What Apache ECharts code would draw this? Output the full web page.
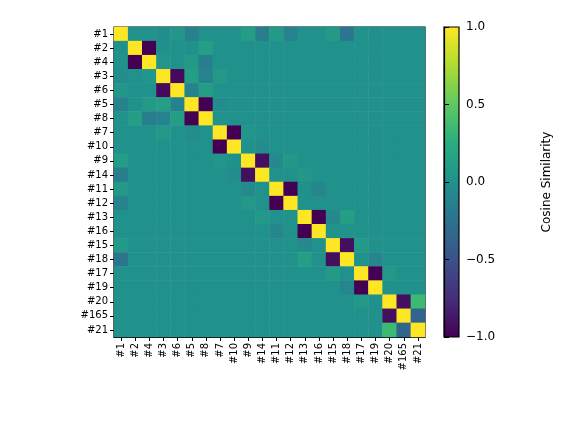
<!DOCTYPE html>
<html>
<head>
<meta charset="utf-8">
<script src="https://cdn.jsdelivr.net/npm/echarts@6/dist/echarts.min.js"></script>
</head>
<body style="margin:0;background:#fff">
<div id="main" style="width:582px;height:426px;"></div>
<script type="text/javascript">
var labels = ['#1','#2','#4','#3','#6','#5','#8','#7','#10','#9','#14','#11','#12','#13','#16','#15','#18','#17','#19','#20','#165','#21'];
// pairs of strongly anti-correlated components [i, j, value]
var pairs = [[1,2,-1],[3,4,-0.95],[5,6,-1],[7,8,-1],[9,10,-0.92],[11,12,-1],[13,14,-1],[15,16,-0.92],[17,18,-1],[19,20,-0.92]];
// weaker off-diagonal similarities [i, j, value]
var minor = [
  [0,5,-0.12],[0,9,0.1],[0,10,-0.15],[0,11,0.08],[0,12,-0.12],[0,15,0.08],[0,16,-0.22],[0,3,-0.03],[0,4,0.04],
  [1,6,0.12],[2,6,-0.15],[2,5,0.08],[3,5,0.12],[3,6,-0.12],[4,5,-0.12],[4,6,0.1],[2,3,0.04],
  [3,7,0.06],[5,7,-0.04],[9,12,0.06],[9,11,-0.06],[10,13,0.05],[11,14,-0.08],[13,16,0.12],[15,17,0.08],
  [16,18,-0.08],[17,19,0.06],[13,15,-0.06],[16,13,0.12],[19,21,0.35],[20,21,-0.35],[7,9,0.04],[8,10,-0.04]
];
var pairVals = pairs.concat(minor);

var n = labels.length;
var cells = [];
var m = [];
for (var i = 0; i < n; i++) { m.push([]); for (var j = 0; j < n; j++) m[i].push(i === j ? 1 : 0); }
pairVals.forEach(function (p) { m[p[0]][p[1]] = p[2]; m[p[1]][p[0]] = p[2]; });
for (var i = 0; i < n; i++) for (var j = 0; j < n; j++) cells.push([j, i, m[i][j]]);

var viridis = ['#440154','#472d7b','#3b528b','#2c728e','#21918c','#28ae80','#5ec962','#addc30','#fde725'];
var stops = viridis.map(function (c, k) { return { offset: 1 - k / (viridis.length - 1), color: c }; });
var blackLine = { show: true, lineStyle: { color: '#000', width: 1.2 } };

var myChart = echarts.init(document.getElementById('main'));
myChart.setOption({
  animation: false,
  grid: [
    { left: 114, top: 27, width: 311, height: 310, show: true, borderColor: '#000', borderWidth: 1.2 },
    { left: 444, top: 27, width: 15, height: 310, show: true, borderColor: '#000', borderWidth: 1.2 }
  ],
  xAxis: [
    { type: 'category', data: labels, gridIndex: 0, axisLine: blackLine, splitLine: { show: false },
      axisTick: { show: true, alignWithLabel: true, length: 4, lineStyle: { color: '#000' } },
      axisLabel: { rotate: 90, interval: 0, fontSize: 10, color: '#000', fontFamily: 'DejaVu Sans', margin: 6 } },
    { type: 'value', gridIndex: 1, show: false, min: 0, max: 1 }
  ],
  yAxis: [
    { type: 'category', data: labels, inverse: true, gridIndex: 0, axisLine: blackLine, splitLine: { show: false },
      axisTick: { show: true, alignWithLabel: true, length: 4, lineStyle: { color: '#000' } },
      axisLabel: { interval: 0, fontSize: 10, color: '#000', fontFamily: 'DejaVu Sans', margin: 6 } },
    { type: 'value', gridIndex: 1, position: 'right', min: -1, max: 1, interval: 0.5,
      axisLine: blackLine, splitLine: { show: false },
      axisTick: { show: true, length: 5, lineStyle: { color: '#000' } },
      axisLabel: { fontSize: 12, color: '#000', fontFamily: 'DejaVu Sans', margin: 7,
        formatter: function (v) { return v.toFixed(1).replace('-', '\u2212'); } },
      name: 'Cosine Similarity', nameLocation: 'middle', nameRotate: 90, nameGap: 82,
      nameTextStyle: { fontSize: 12, color: '#000', fontFamily: 'DejaVu Sans' } }
  ],
  visualMap: { show: false, min: -1, max: 1, seriesIndex: 0, inRange: { color: viridis } },
  graphic: [{ type: 'rect', shape: { x: 444, y: 27, width: 15, height: 310 }, z: -1,
    style: { fill: new echarts.graphic.LinearGradient(0, 0, 0, 1, stops) } }],
  series: [{ type: 'heatmap', xAxisIndex: 0, yAxisIndex: 0, data: cells, itemStyle: { borderWidth: 0 } }]
});
</script>
</body>
</html>
